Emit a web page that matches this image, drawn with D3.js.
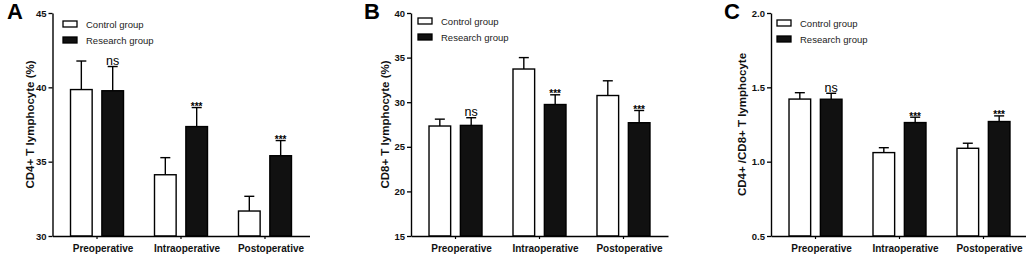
<!DOCTYPE html>
<html>
<head>
<meta charset="utf-8">
<script src="https://cdn.jsdelivr.net/npm/d3@7"></script>
<style>
  body { margin: 0; background: #fff; }
  svg { display: block; font-family: "Liberation Sans", Arial, sans-serif; }
</style>
</head>
<body>
<div id="chart"></div>
<script>
const W = 1026, H = 260;

// categories and series
const phases = ["Preoperative", "Intraoperative", "Postoperative"];
const groupNames = ["Control group", "Research group"];
const marks = ["ns", "***", "***"];

// A: CD4+
const cd4Control = [39.85, 34.12, 31.68];
const cd4ControlSd = [1.92, 1.15, 0.99];
const cd4Research = [39.77, 37.36, 35.40];
const cd4ResearchSd = [1.63, 1.28, 1.02];
const cd4Ticks = [30, 35, 40, 45];

// B: CD8+
const cd8Control = [27.33, 33.72, 30.75];
const cd8ControlSd = [0.77, 1.28, 1.65];
const cd8Research = [27.40, 29.74, 27.70];
const cd8ResearchSd = [0.86, 1.09, 1.37];
const cd8Ticks = [15, 20, 25, 30, 35, 40];

// C: CD4+/CD8+
const ratioControl = [1.421, 1.061, 1.090];
const ratioControlSd = [0.043, 0.033, 0.034];
const ratioResearch = [1.420, 1.263, 1.270];
const ratioResearchSd = [0.040, 0.036, 0.038];
const ratioTicks = [0.5, 1.0, 1.5, 2.0];

const svg = d3.select("#chart").append("svg").attr("width", W).attr("height", H);

const TOP = 13, BOTTOM = 236, AXW = 257;

function drawPanel(p) {
  const g = svg.append("g");
  const y = d3.scaleLinear().domain(p.domain).range([BOTTOM, TOP]);
  const x = d3.scaleBand().domain(phases).range([p.x0, p.x0 + AXW]).paddingInner(0).paddingOuter(0.03);
  const inner = d3.scaleBand().domain(groupNames).range([-26.5, 26.5]).paddingInner(0.31);

  const rows = [];
  phases.forEach((ph, i) => {
    rows.push({ ph, grp: groupNames[0], v: p.control[i], sd: p.controlSd[i], mark: null });
    rows.push({ ph, grp: groupNames[1], v: p.research[i], sd: p.researchSd[i], mark: marks[i] });
  });
  const cx = d => x(d.ph) + x.bandwidth() / 2 + inner(d.grp) + inner.bandwidth() / 2;

  // error bars (upper only)
  g.selectAll("line.err").data(rows).join("line")
    .attr("x1", cx).attr("x2", cx)
    .attr("y1", d => y(d.v)).attr("y2", d => y(d.v + d.sd))
    .attr("stroke", "#000").attr("stroke-width", 1.4);
  g.selectAll("line.cap").data(rows).join("line")
    .attr("x1", d => cx(d) - 5).attr("x2", d => cx(d) + 5)
    .attr("y1", d => y(d.v + d.sd)).attr("y2", d => y(d.v + d.sd))
    .attr("stroke", "#000").attr("stroke-width", 1.4);

  // bars
  g.selectAll("rect.bar").data(rows).join("rect")
    .attr("x", d => x(d.ph) + x.bandwidth() / 2 + inner(d.grp))
    .attr("width", inner.bandwidth())
    .attr("y", d => y(d.v))
    .attr("height", d => BOTTOM - y(d.v))
    .attr("fill", d => d.grp === groupNames[0] ? "#fff" : "#111")
    .attr("stroke", "#000").attr("stroke-width", 1.4);

  // significance marks
  g.selectAll("text.mark").data(rows.filter(d => d.mark)).join("text")
    .attr("x", cx)
    .attr("y", d => y(d.v + d.sd) + (d.mark === "ns" ? -1.5 : 2.5))
    .attr("text-anchor", "middle")
    .attr("font-size", d => d.mark === "ns" ? 12.5 : 10)
    .attr("font-weight", d => d.mark === "ns" ? "normal" : "bold")
    .attr("fill", "#000")
    .text(d => d.mark);

  // axes
  const ya = g.append("g").attr("transform", `translate(${p.x0},0)`)
    .call(d3.axisLeft(y).tickValues(p.ticks).tickFormat(p.fmt).tickSize(4).tickSizeOuter(0));
  ya.select(".domain").attr("stroke-width", 1.4);
  ya.selectAll(".tick line").attr("stroke-width", 1.3);
  ya.selectAll("text").attr("font-size", 9.5).attr("font-weight", "bold")
    .attr("fill", "#111").attr("font-family", "Liberation Sans, Arial, sans-serif").attr("dx", 1);

  const xa = g.append("g").attr("transform", `translate(0,${BOTTOM})`)
    .call(d3.axisBottom(x).tickSize(3).tickSizeOuter(0));
  xa.select(".domain").attr("stroke-width", 1.4);
  xa.selectAll(".tick line").attr("stroke-width", 1.2);
  xa.selectAll("text").attr("font-size", 10).attr("font-weight", "bold")
    .attr("fill", "#111").attr("font-family", "Liberation Sans, Arial, sans-serif")
    .attr("dy", "0.95em").attr("dx", 6);

  // y label
  g.append("text")
    .attr("transform", `translate(${p.labelX},${(TOP + BOTTOM) / 2}) rotate(-90)`)
    .attr("text-anchor", "middle")
    .attr("font-size", 11.5).attr("font-weight", "bold").attr("fill", "#111")
    .text(p.ylabel);

  // panel letter
  g.append("text").attr("x", p.letterX).attr("y", 19)
    .attr("font-size", 22).attr("font-weight", "bold").attr("fill", "#000")
    .text(p.letter);

  // legend
  groupNames.forEach((name, i) => {
    const ly = p.legY + i * 16;
    g.append("rect").attr("x", p.legX).attr("y", ly).attr("width", 14).attr("height", 6)
      .attr("fill", i === 0 ? "#fff" : "#111").attr("stroke", "#000").attr("stroke-width", 1.3);
    g.append("text").attr("x", p.legX + 23).attr("y", ly + 6.5)
      .attr("font-size", 9.5).attr("fill", "#222").text(name);
  });
}

drawPanel({
  letter: "A", letterX: 7, x0: 52.5, labelX: 34, legX: 63, legY: 21,
  domain: [30, 45], ticks: cd4Ticks, fmt: d3.format("d"),
  control: cd4Control, controlSd: cd4ControlSd, research: cd4Research, researchSd: cd4ResearchSd,
  ylabel: "CD4+ T lymphocyte (%)"
});
drawPanel({
  letter: "B", letterX: 364, x0: 411, labelX: 389, legX: 418, legY: 18,
  domain: [15, 40], ticks: cd8Ticks, fmt: d3.format("d"),
  control: cd8Control, controlSd: cd8ControlSd, research: cd8Research, researchSd: cd8ResearchSd,
  ylabel: "CD8+ T lymphocyte (%)"
});
drawPanel({
  letter: "C", letterX: 724, x0: 771, labelX: 746, legX: 777, legY: 20,
  domain: [0.5, 2.0], ticks: ratioTicks, fmt: d3.format(".1f"),
  control: ratioControl, controlSd: ratioControlSd, research: ratioResearch, researchSd: ratioResearchSd,
  ylabel: "CD4+ /CD8+ T lymphocyte"
});
</script>
</body>
</html>
